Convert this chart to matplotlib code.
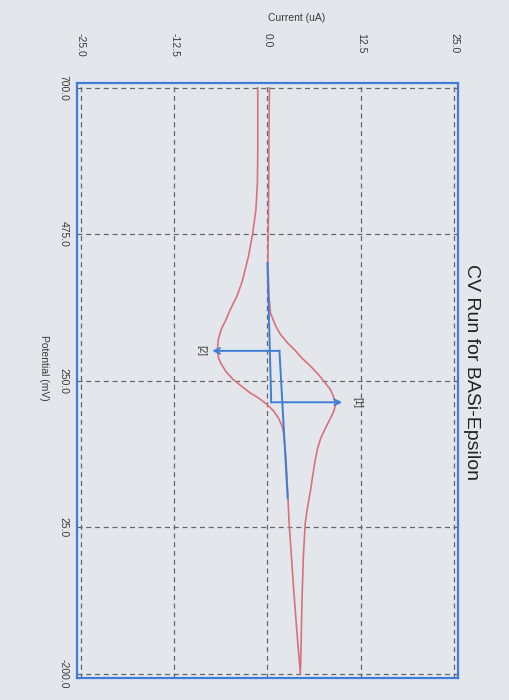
import matplotlib
matplotlib.use("Agg")
import matplotlib.pyplot as plt

plt.rcParams['font.family'] = ['Liberation Sans', 'DejaVu Sans']

# --- datos (potencial en mV, corriente en uA) ---

# rama con pico negativo [2]
pot_a = [700, 656, 605, 554, 513, 475, 441, 402, 380, 359, 344, 329, 313,
         297, 285, 277, 264, 252, 242, 232, 224, 214, 204, 192, 179, 166,
         126, 31, -70, -145, -200]
cur_a = [-1.3, -1.3, -1.3, -1.35, -1.55, -2.0, -2.55, -3.4, -4.1, -5.0,
         -5.55, -6.2, -6.6, -6.7, -6.55, -6.25, -5.55, -4.6, -3.5, -2.4,
         -1.25, -0.1, 0.8, 1.5, 2.0, 2.2, 2.5, 2.9, 3.5, 4.0, 4.4]

# rama con pico positivo [1]
pot_b = [-200, -155, -95, -20, 31, 55, 81, 100, 126, 146, 161, 176, 194,
         204, 214, 227, 237, 247, 260, 272, 285, 298, 308, 321, 334, 354,
         380, 431, 475, 554, 631, 700]
cur_b = [4.4, 4.5, 4.6, 4.8, 5.05, 5.35, 5.75, 6.0, 6.35, 6.7, 7.1, 7.7,
         8.5, 8.9, 9.1, 8.8, 8.4, 7.7, 6.8, 5.8, 4.6, 3.6, 2.7, 1.75, 1.1,
         0.4, 0.2, 0.05, 0.1, 0.17, 0.2, 0.26]

# marcadores de pico: linea base y altura
pico2_base_pot = [296, 70]
pico2_base_cur = [1.6, 2.7]
pico2_punta = -7.4

pico1_base_pot = [431, 217]
pico1_base_cur = [0.0, 0.5]
pico1_punta = 10.0

etiquetas_pico = ["[2]", "[1]"]
pos_etiquetas = [(-8.9, 296), (12.0, 217)]

ticks_corriente = [-25.0, -12.5, 0.0, 12.5, 25.0]
ticks_potencial = [-200.0, 25.0, 250.0, 475.0, 700.0]

fondo = '#e3e7ec'
rojo = '#d9707e'
azul = '#3f7dd6'
texto = '#3a3a3a'

fig = plt.figure(figsize=(5.1, 7.0), dpi=100, facecolor=fondo)
ax = fig.add_axes([0.151, 0.031, 0.747, 0.850])
ax.set_facecolor(fondo)

# curva CV
ax.plot(cur_a + cur_b, pot_a + pot_b, color=rojo, lw=1.2, zorder=3)

# lineas de los picos
ax.plot(pico2_base_cur, pico2_base_pot, color=azul, lw=1.4, zorder=4)
ax.annotate('', xy=(pico2_punta, pico2_base_pot[0]),
            xytext=(pico2_base_cur[0], pico2_base_pot[0]),
            arrowprops=dict(arrowstyle='->', color=azul, lw=1.4,
                            shrinkA=0, shrinkB=0), zorder=4)
ax.plot(pico1_base_cur, pico1_base_pot, color=azul, lw=1.4, zorder=4)
ax.annotate('', xy=(pico1_punta, pico1_base_pot[1]),
            xytext=(pico1_base_cur[1], pico1_base_pot[1]),
            arrowprops=dict(arrowstyle='->', color=azul, lw=1.4,
                            shrinkA=0, shrinkB=0), zorder=4)

for et, (cx, py) in zip(etiquetas_pico, pos_etiquetas):
    ax.text(cx, py, et, rotation=-90, ha='center', va='center',
            fontsize=7, color=texto)

# ejes
ax.set_xlim(-25.5, 25.5)
ax.set_ylim(-207, 707)
ax.xaxis.tick_top()
ax.set_xticks(ticks_corriente)
ax.set_xticklabels([f"{v:.1f}" for v in ticks_corriente], rotation=-90,
                   va='top', fontsize=7.5, color=texto)
ax.set_yticks(ticks_potencial)
ax.set_yticklabels([f"{v:.1f}" for v in ticks_potencial], rotation=-90,
                   va='center', fontsize=7.5, color=texto)
ax.tick_params(axis='x', length=0, pad=36)
ax.tick_params(axis='y', length=0, pad=6)

ax.grid(True, color='#666666', lw=0.9, linestyle=(0, (4, 3)))
for s in ax.spines.values():
    s.set_color(azul)
    s.set_linewidth(1.6)

fig.text(0.582, 0.974, "Current (uA)", ha='center', va='center',
         fontsize=7.5, color=texto)
fig.text(0.086, 0.474, "Potential (mV)", rotation=-90, ha='center',
         va='center', fontsize=7.5, color=texto)
fig.text(0.924, 0.469, "CV Run for BASi-Epsilon", rotation=-90,
         ha='center', va='center', fontsize=14, color='#222222')

fig.savefig("out.png", dpi=100, facecolor=fondo)
